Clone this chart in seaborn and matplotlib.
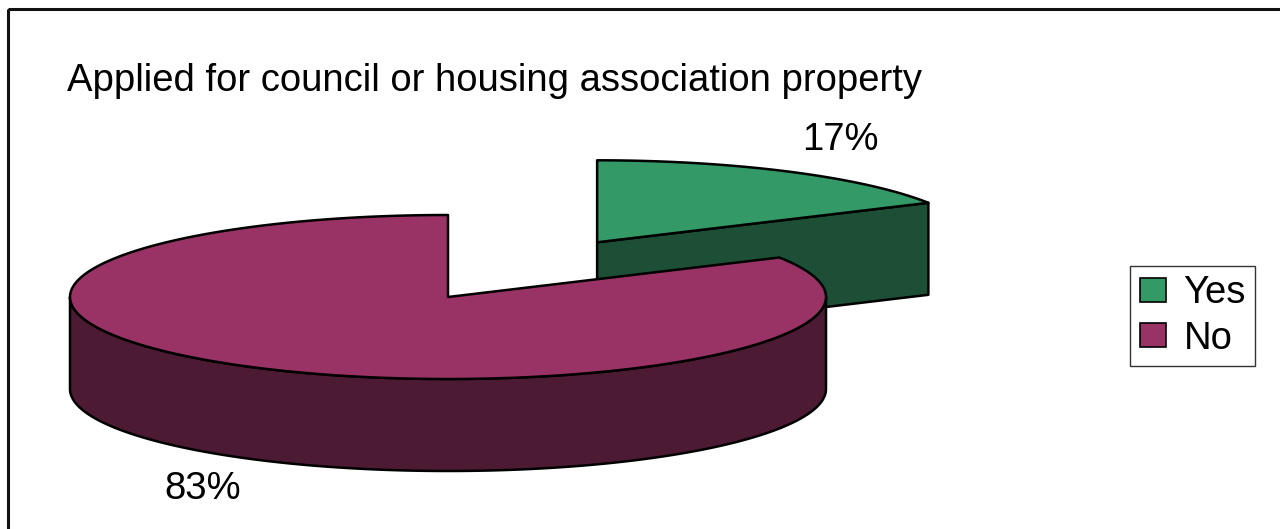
import numpy as np
import matplotlib
matplotlib.use("Agg")
import matplotlib.pyplot as plt
from matplotlib.patches import Polygon, Patch, Rectangle
import seaborn as sns

# ---- data ----
categories = ["Yes", "No"]
shares = [17, 83]
title_text = "Applied for council or housing association property"

# ---- style / layout ----
top_colors = ["#339966", "#993366"]
side_colors = ["#1C4F36", "#4C1A33"]
W, H = 1280, 529
center = (448, 297)       # pie centre (pixels)
rx, ry, depth = 378, 82, 92
explode = [0.775, 0.0]
label_pos = [(840, 140), (203, 489)]
FS = 27.5

sns.set_theme(style="white")
plt.rcParams["font.family"] = ["Liberation Sans", "DejaVu Sans"]
plt.rcParams["text.color"] = "black"

fig = plt.figure(figsize=(W / 100, H / 100), dpi=100)
ax = fig.add_axes([0, 0, 1, 1])
ax.set_xlim(0, W)
ax.set_ylim(H, 0)
ax.axis("off")

# frame
ax.add_patch(Rectangle((8, 9), W + 20, H + 20, fill=False, ec="#111111", lw=2.2, zorder=0))


def pt(cx, cy, a, dz=0.0):
    r = np.deg2rad(a)
    return cx + rx * np.sin(r), cy - ry * np.cos(r) + dz


total = float(sum(shares))
starts = np.cumsum([0] + shares[:-1]) / total * 360.0
ends = np.cumsum(shares) / total * 360.0

edge_kw = dict(ec="black", lw=1.8, joinstyle="round")
for i, (s, e) in enumerate(zip(starts, ends)):
    mid = np.deg2rad((s + e) / 2)
    cx = center[0] + explode[i] * rx * np.sin(mid)
    cy = center[1] - explode[i] * ry * np.cos(mid)
    z = 2 + i * 3
    # outer wall (front half only: 90..270)
    a0, a1 = max(s, 90), min(e, 270)
    if a1 > a0:
        aa = np.linspace(a0, a1, 200)
        top = [pt(cx, cy, a) for a in aa]
        bot = [pt(cx, cy, a, depth) for a in aa[::-1]]
        ax.add_patch(Polygon(top + bot, closed=True, fc=side_colors[i], zorder=z, **edge_kw))
    # radial cut face at end angle (visible when pointing towards viewer)
    if 0 < e % 360 < 180 and i == 0:
        p = pt(cx, cy, e)
        quad = [(cx, cy), p, (p[0], p[1] + depth), (cx, cy + depth)]
        ax.add_patch(Polygon(quad, closed=True, fc=side_colors[i], zorder=z, **edge_kw))
    # top face
    aa = np.linspace(s, e, 300)
    poly = [(cx, cy)] + [pt(cx, cy, a) for a in aa]
    ax.add_patch(Polygon(poly, closed=True, fc=top_colors[i], zorder=z + 1, **edge_kw))
    ax.text(label_pos[i][0], label_pos[i][1], f"{shares[i]}%", fontsize=FS,
            ha="center", va="center", color="black", zorder=10)

ax.text(67, 81, title_text, fontsize=FS, ha="left", va="center", color="black")

handles = [Patch(fc=c, ec="black", lw=1.2) for c in top_colors]
leg = fig.legend(handles, categories, loc="center left",
                 bbox_to_anchor=(1130 / W, 1 - 316 / H), fontsize=FS,
                 frameon=True, fancybox=False, edgecolor="black", labelcolor="black",
                 handlelength=0.7, handleheight=0.6, handletextpad=0.45,
                 borderpad=0.25, labelspacing=0.25, borderaxespad=0)
leg.get_frame().set_linewidth(1.0)

fig.savefig("out.png", dpi=100, facecolor="white")
